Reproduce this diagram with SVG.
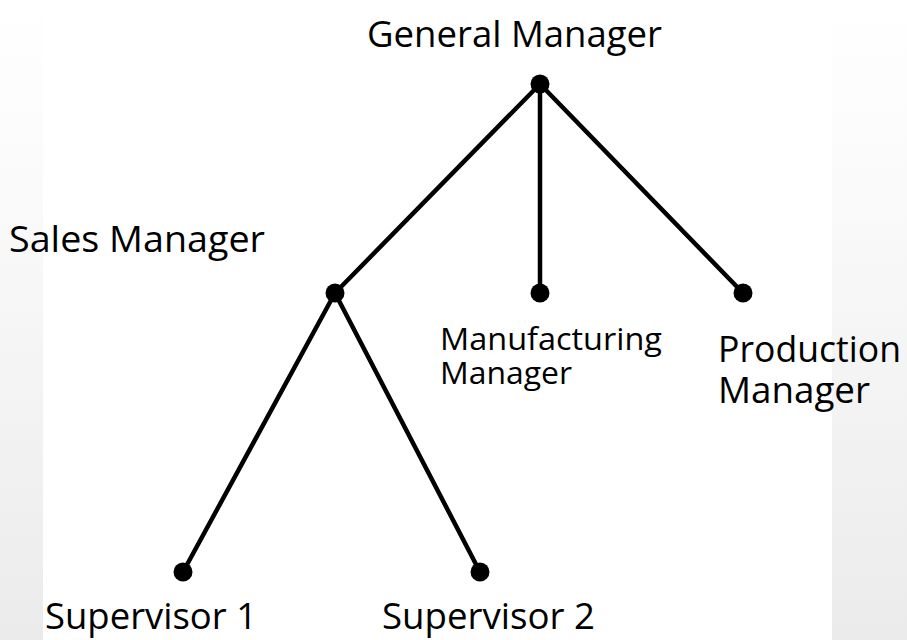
<svg xmlns="http://www.w3.org/2000/svg" width="907" height="640" viewBox="0 0 907 640">
  <defs>
    <linearGradient id="side" x1="0" y1="0" x2="0" y2="1">
      <stop offset="0" stop-color="#ffffff"/>
      <stop offset="0.3" stop-color="#fafafa"/>
      <stop offset="1" stop-color="#ebebeb"/>
    </linearGradient>
    <style>
      .lbl { font-family: "Open Sans", "Noto Sans", "Liberation Sans", sans-serif; fill: #000; }
      .big { font-size: 37px; }
      .small { font-size: 31px; }
      .edge { stroke: #000; stroke-width: 4.5; fill: none; stroke-linecap: round; }
      .dot { fill: #000; }
    </style>
  </defs>

  <!-- backdrop: white sheet with shaded side margins -->
  <rect x="0" y="0" width="907" height="640" fill="#ffffff"/>
  <rect x="0" y="0" width="43" height="640" fill="url(#side)"/>
  <rect x="832" y="0" width="75" height="640" fill="url(#side)"/>
  <rect x="43" y="0" width="789" height="640" fill="#ffffff"/>

  <!-- connectors -->
  <g id="connectors">
    <line class="edge" x1="540" y1="84" x2="335" y2="293"/>
    <line class="edge" x1="540" y1="84" x2="540" y2="293"/>
    <line class="edge" x1="540" y1="84" x2="743" y2="293"/>
    <line class="edge" x1="335" y1="293" x2="183" y2="572"/>
    <line class="edge" x1="335" y1="293" x2="480" y2="572"/>
  </g>

  <g id="general-manager">
    <circle class="dot" cx="540" cy="84" r="9.5"/>
    <text class="lbl big" x="367" y="47" textLength="295" lengthAdjust="spacingAndGlyphs">General Manager</text>
  </g>

  <g id="sales-manager">
    <circle class="dot" cx="335" cy="293" r="9.5"/>
    <text class="lbl big" x="9" y="252" textLength="256" lengthAdjust="spacingAndGlyphs">Sales Manager</text>
  </g>

  <g id="manufacturing-manager">
    <circle class="dot" cx="540" cy="293" r="9.5"/>
    <text class="lbl small" x="440" y="350" textLength="222" lengthAdjust="spacingAndGlyphs">Manufacturing</text>
    <text class="lbl small" x="440" y="384" textLength="132" lengthAdjust="spacingAndGlyphs">Manager</text>
  </g>

  <g id="production-manager">
    <circle class="dot" cx="743" cy="293" r="9.5"/>
    <text class="lbl big" x="718" y="362" textLength="183" lengthAdjust="spacingAndGlyphs">Production</text>
    <text class="lbl big" x="718" y="403" textLength="152" lengthAdjust="spacingAndGlyphs">Manager</text>
  </g>

  <g id="supervisor-1">
    <circle class="dot" cx="183" cy="572" r="9.5"/>
    <text class="lbl big" x="45" y="629" textLength="212" lengthAdjust="spacingAndGlyphs">Supervisor 1</text>
  </g>

  <g id="supervisor-2">
    <circle class="dot" cx="480" cy="572" r="9.5"/>
    <text class="lbl big" x="382" y="629" textLength="213" lengthAdjust="spacingAndGlyphs">Supervisor 2</text>
  </g>
</svg>
